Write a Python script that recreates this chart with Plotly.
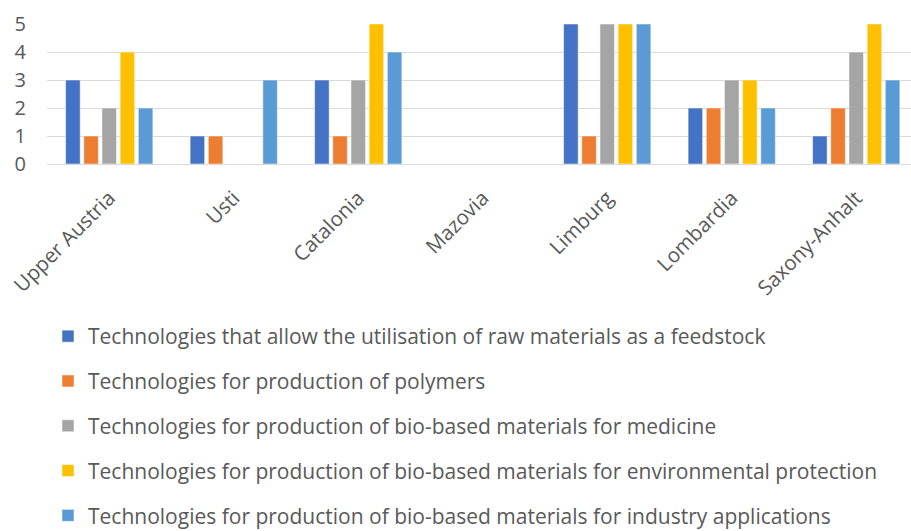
import plotly.graph_objects as go

regions = ["Upper Austria", "Usti", "Catalonia", "Mazovia", "Limburg", "Lombardia", "Saxony-Anhalt"]
series_names = [
    "Technologies that allow the utilisation of raw materials as a feedstock",
    "Technologies for production of polymers",
    "Technologies for production of bio-based materials for medicine",
    "Technologies for production of bio-based materials for environmental protection",
    "Technologies for production of bio-based materials for industry applications",
]
raw_materials = [3, 1, 3, 0, 5, 2, 1]
polymers = [1, 1, 1, 0, 1, 2, 2]
medicine = [2, 0, 3, 0, 5, 3, 4]
environment = [4, 0, 5, 0, 5, 3, 5]
industry = [2, 3, 4, 0, 5, 2, 3]
colors = ["#4472C4", "#ED7D31", "#A5A5A5", "#FFC000", "#5B9BD5"]

values = [raw_materials, polymers, medicine, environment, industry]

FONT = "Open Sans"
TXT = "#595959"

fig = go.Figure()
for i, (name, vals, col) in enumerate(zip(series_names, values, colors)):
    fig.add_trace(go.Bar(
        x=regions, y=vals, name=name, legendgroup=f"g{i}",
        marker=dict(color=col, line=dict(color="white", width=0.5)),
    ))

W, H = 911, 531
L, R, T, B = 47, 0, 24, 367
fig.update_layout(
    width=W, height=H,
    margin=dict(l=L, r=R, t=T, b=B),
    paper_bgcolor="white", plot_bgcolor="white",
    barmode="group", bargap=0.27, bargroupgap=0.2,
    font=dict(family=FONT, color=TXT, size=20),
    xaxis=dict(
        range=[-0.5, 6.44], tickangle=-45, showgrid=False, showline=False,
        ticks="", tickfont=dict(size=20.5, color=TXT), zeroline=False,
        automargin=False, ticklabelstandoff=17,
    ),
    yaxis=dict(
        range=[0, 5], dtick=1, showgrid=True, gridcolor="#D9D9D9", gridwidth=1.3,
        zeroline=True, zerolinecolor="#D9D9D9", zerolinewidth=1.3,
        showline=False, ticks="", tickfont=dict(size=20, color=TXT),
        automargin=False, ticklabelstandoff=20,
    ),
    legend=dict(
        orientation="v", x=(48 - L) / (W - L), xanchor="left",
        yref="container", y=1 - 316 / H, yanchor="top",
        font=dict(size=21, color=TXT, family=FONT),
        tracegroupgap=14.5, itemwidth=30, bgcolor="rgba(0,0,0,0)",
    ),
)

fig.write_html("out.html")
